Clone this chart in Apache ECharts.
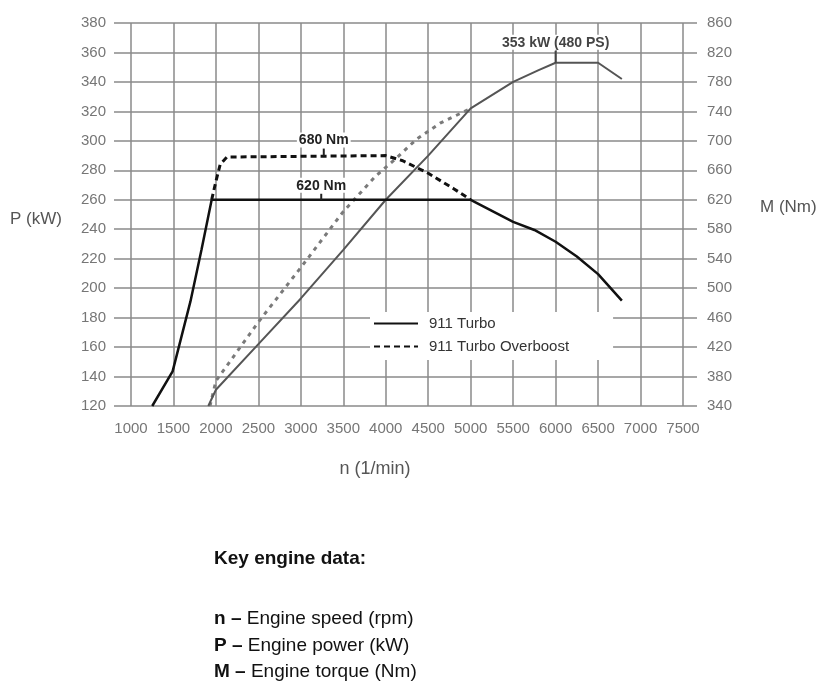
<!DOCTYPE html>
<html>
<head>
<meta charset="utf-8">
<script src="https://cdn.jsdelivr.net/npm/echarts@6/dist/echarts.min.js"></script>
<style>
html,body{margin:0;padding:0;background:#fff;}
#c{width:838px;height:694px;}
</style>
</head>
<body>
<div id="c"></div>
<script>
// ---- tick values ----
const rpmTicks    = [1000,1500,2000,2500,3000,3500,4000,4500,5000,5500,6000,6500,7000,7500];
const powerTicks  = [120,140,160,180,200,220,240,260,280,300,320,340,360,380];
const torqueTicks = [340,380,420,460,500,540,580,620,660,700,740,780,820,860];

// ---- series values ----
const turboTorqueRpm = [1250, 1490, 1700, 1830, 1950, 5000, 5500, 5750, 6000, 6250, 6500, 6780];
const turboTorqueNm  = [340,  387,  482,  552,  620,  620,  590,  579,  563,  543,  519,  483];

const boostTorqueRpm = [1950, 2000, 2050, 2130, 4000, 4200, 4500, 4800, 5000];
const boostTorqueNm  = [620,  645,  668,  678,  680,  673,  656,  635,  620];

const turboPowerRpm = [1910, 2000, 2500, 3000, 3500, 4000, 4500, 5000, 5500, 5800, 6000, 6500, 6780];
const turboPowerKw  = [120,  131,  162,  193,  226,  260,  290,  322,  340,  348,  353,  353,  342];

const boostPowerRpm = [1930, 2000, 2500, 3000, 3500, 3880, 4120, 4360, 4640, 5000];
const boostPowerKw  = [120,  137,  177,  214,  252,  276,  288,  301,  312,  322];

// ---- annotations ----
const noteTexts = ['680 Nm', '620 Nm', '353 kW (480 PS)'];
const noteRpm   = [3270, 3240, 6000];
const noteVal   = [680, 620, 353];

const seriesNames = ['911 Turbo', '911 Turbo Overboost'];
const axisNames = ['P (kW)', 'M (Nm)'];
const keyTitle = 'Key engine data:';
const keyBold  = ['n –', 'P –', 'M –'];
const keyText  = ['Engine speed (rpm)', 'Engine power (kW)', 'Engine torque (Nm)'];

const zip = (a, b) => a.map((v, i) => [v, b[i]]);

const FONT = 'Liberation Sans, Arial, Helvetica, sans-serif';
const GRID = { color: '#8a8a8a', width: 1.5 };

function note(i, tickH, color) {
  return {
    symbol: 'rect',
    symbolSize: [2, tickH],
    symbolOffset: [0, -tickH / 2],
    itemStyle: { color: color },
    label: {
      show: true, position: 'top', distance: 1,
      formatter: p => p.name,
      fontFamily: FONT, fontSize: 14, fontWeight: 'bold', color: color,
      backgroundColor: '#fff', padding: [1, 2, 0, 2]
    },
    data: [{ name: noteTexts[i], coord: [noteRpm[i], noteVal[i]] }]
  };
}

const chart = echarts.init(document.getElementById('c'), null, { renderer: 'canvas' });
chart.setOption({
  animation: false,
  backgroundColor: '#fff',
  textStyle: { fontFamily: FONT },
  grid: { left: 131, right: 155, top: 23, bottom: 288, containLabel: false, outerBoundsMode: 'none' },
  legend: {
    data: seriesNames,
    orient: 'vertical',
    left: 370, top: 312,
    backgroundColor: '#fff',
    padding: [4, 44, 6, 3],
    itemWidth: 44, itemHeight: 14, itemGap: 8,
    itemStyle: { color: 'rgba(0,0,0,0)', borderWidth: 0, opacity: 0 },
    textStyle: { fontSize: 15, color: '#333', padding: [0, 0, 0, 6] },
    selectedMode: false
  },
  xAxis: {
    type: 'value',
    min: rpmTicks[0], max: rpmTicks[rpmTicks.length - 1], interval: rpmTicks[1] - rpmTicks[0],
    name: 'n (1/min)', nameLocation: 'middle', nameGap: 54,
    nameTextStyle: { fontSize: 18, color: '#555', padding: [0, 64, 0, 0] },
    axisLine: { show: false }, axisTick: { show: false },
    axisLabel: { color: '#767676', fontSize: 15, margin: 15, formatter: v => String(v) },
    splitLine: { show: true, lineStyle: GRID }
  },
  yAxis: [{
    type: 'value', position: 'left',
    min: powerTicks[0], max: powerTicks[powerTicks.length - 1], interval: powerTicks[1] - powerTicks[0],
    axisLine: { show: false },
    axisTick: { show: true, inside: false, length: 17, lineStyle: GRID },
    axisLabel: { color: '#767676', fontSize: 15, margin: 25 },
    splitLine: { show: true, lineStyle: GRID }
  }, {
    type: 'value', position: 'right',
    min: torqueTicks[0], max: torqueTicks[torqueTicks.length - 1], interval: torqueTicks[1] - torqueTicks[0],
    axisLine: { show: false },
    axisTick: { show: true, inside: false, length: 14, lineStyle: GRID },
    axisLabel: { color: '#767676', fontSize: 15, margin: 24 },
    splitLine: { show: false }
  }],
  series: [
    {
      name: seriesNames[0], type: 'line', yAxisIndex: 1, symbol: 'none',
      data: zip(turboTorqueRpm, turboTorqueNm),
      lineStyle: { color: '#111', width: 2.5 }, itemStyle: { color: '#111' }, z: 4,
      markPoint: note(1, 6, '#222')
    },
    {
      name: seriesNames[1], type: 'line', yAxisIndex: 1, symbol: 'none',
      data: zip(boostTorqueRpm, boostTorqueNm),
      lineStyle: { color: '#111', width: 3, type: [6, 4] }, itemStyle: { color: '#111' }, z: 3,
      markPoint: note(0, 7, '#222')
    },
    {
      name: seriesNames[0], type: 'line', yAxisIndex: 0, symbol: 'none',
      data: zip(turboPowerRpm, turboPowerKw),
      lineStyle: { color: '#555', width: 2 }, itemStyle: { color: '#555' }, z: 3,
      markPoint: note(2, 12, '#444')
    },
    {
      name: seriesNames[1], type: 'line', yAxisIndex: 0, symbol: 'none',
      data: zip(boostPowerRpm, boostPowerKw),
      lineStyle: { color: '#7a7a7a', width: 3, type: [4, 5] }, itemStyle: { color: '#7a7a7a' }, z: 2
    }
  ],
  graphic: [
    { type: 'text', x: 10, y: 219, style: { text: axisNames[0], font: '17px ' + FONT, fill: '#555', verticalAlign: 'middle' } },
    { type: 'text', x: 760, y: 207, style: { text: axisNames[1], font: '17px ' + FONT, fill: '#555', verticalAlign: 'middle' } },
    { type: 'text', x: 214, y: 559, style: { text: keyTitle, font: 'bold 19px ' + FONT, fill: '#111', verticalAlign: 'middle' } }
  ].concat(keyBold.map((b, i) => ({
    type: 'text', x: 214, y: 619 + i * 26.5,
    style: {
      text: '{b|' + b + '} ' + keyText[i],
      font: '19px ' + FONT, fill: '#111', verticalAlign: 'middle',
      rich: { b: { fontWeight: 'bold', fontSize: 19, fontFamily: FONT, fill: '#111' } }
    }
  })))
});
</script>
</body>
</html>
